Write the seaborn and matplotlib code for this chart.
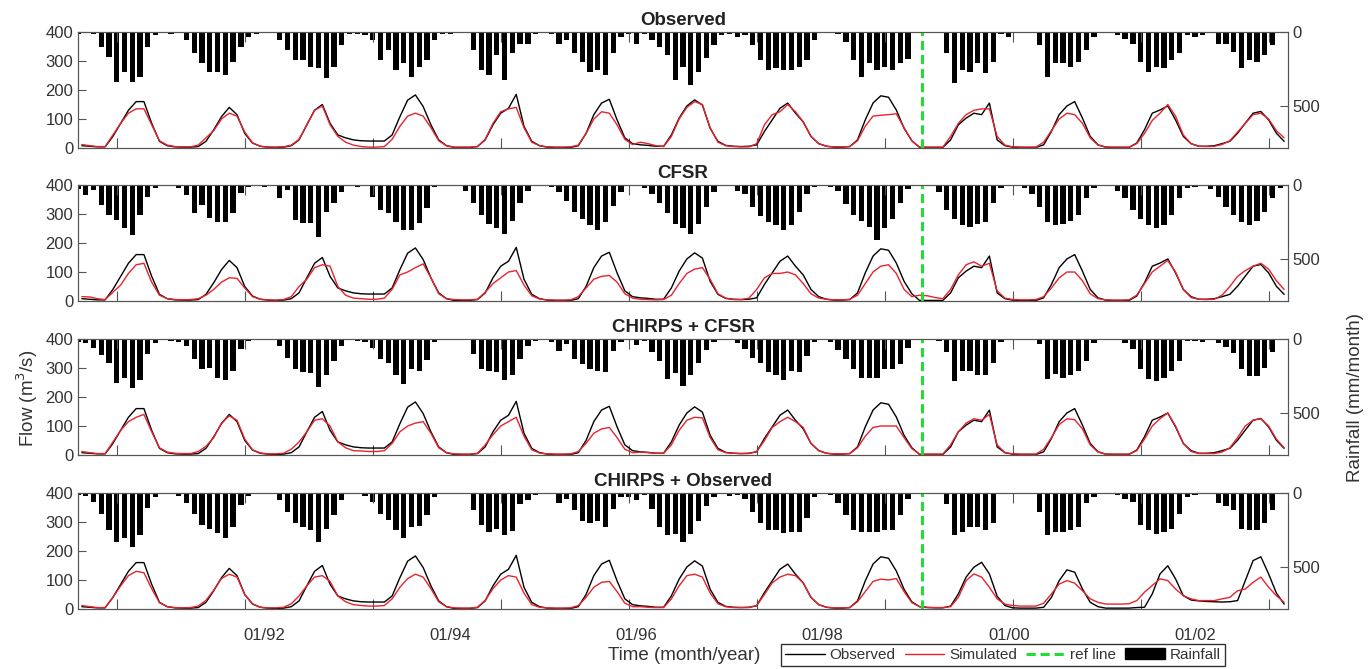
import numpy as np
import pandas as pd
import matplotlib
matplotlib.use('Agg')
import matplotlib.pyplot as plt
import seaborn as sns
from matplotlib.lines import Line2D
from matplotlib.patches import Patch

# monthly series, Jan 1990 - Dec 2002 (156 months)
panel_titles = ['Observed', 'CFSR', 'CHIRPS + CFSR', 'CHIRPS + Observed']
tick_months = [24, 48, 72, 96, 120, 144]
tick_labels = ['01/92', '01/94', '01/96', '01/98', '01/00', '01/02']
ref_month = 108.8

obs_flow = [
    8, 6, 4, 4, 40, 85, 130, 160, 160, 85, 23, 8,
    4, 3, 3, 5, 23, 63, 108, 140, 115, 50, 17, 6,
    3, 2, 3, 8, 28, 80, 130, 150, 85, 45, 35, 28,
    25, 24, 24, 24, 45, 108, 165, 183, 143, 80, 28, 8,
    2, 2, 2, 5, 28, 80, 120, 137, 185, 75, 23, 8,
    3, 2, 2, 2, 8, 50, 115, 155, 168, 97, 35, 15,
    11, 9, 6, 6, 45, 103, 145, 166, 148, 68, 23, 9,
    6, 5, 6, 11, 57, 97, 137, 155, 120, 90, 40, 15,
    6, 3, 3, 5, 28, 97, 155, 180, 175, 131, 68, 25,
    2, 2, 2, 2, 28, 80, 103, 120, 115, 155, 28, 8,
    3, 2, 2, 2, 11, 57, 115, 145, 160, 103, 40, 11,
    3, 2, 2, 2, 17, 63, 120, 131, 145, 97, 40, 15,
    6, 6, 8, 15, 23, 51, 86, 120, 126, 97, 51, 23,
]
# observed curve drawn in the last panel for 1999-2002
obs_flow_p4_tail = [
    8, 5, 4, 4, 10, 52, 110, 144, 161, 121, 44, 12,
    4, 3, 3, 3, 6, 40, 98, 135, 127, 69, 23, 8,
    3, 3, 3, 3, 5, 6, 52, 121, 149, 104, 46, 31,
    28, 26, 25, 24, 25, 29, 98, 167, 180, 121, 55, 17,
]

sim_observed = [
    12, 8, 5, 5, 45, 85, 120, 135, 135, 80, 25, 10,
    5, 4, 4, 10, 35, 60, 100, 120, 110, 55, 18, 6,
    3, 3, 4, 10, 30, 80, 130, 145, 80, 40, 20, 10,
    5, 3, 3, 5, 30, 75, 110, 120, 110, 70, 25, 8,
    3, 3, 3, 5, 30, 85, 125, 135, 140, 70, 20, 8,
    4, 3, 3, 4, 10, 50, 100, 125, 120, 80, 30, 12,
    20, 15, 8, 5, 40, 100, 140, 160, 150, 70, 20, 8,
    5, 4, 4, 15, 80, 115, 125, 150, 125, 90, 40, 15,
    6, 4, 4, 5, 25, 75, 110, 113, 115, 118, 70, 25,
    3, 3, 3, 3, 40, 85, 115, 130, 135, 135, 40, 10,
    4, 3, 3, 3, 20, 60, 100, 120, 115, 85, 35, 10,
    3, 3, 3, 3, 15, 50, 95, 120, 150, 110, 45, 15,
    6, 5, 6, 12, 25, 55, 85, 115, 120, 100, 60, 35,
]
sim_cfsr = [
    15, 14, 8, 5, 30, 55, 95, 125, 130, 65, 20, 8,
    5, 4, 5, 8, 20, 40, 65, 80, 78, 45, 15, 6,
    4, 3, 5, 15, 50, 75, 115, 125, 120, 50, 20, 10,
    8, 6, 6, 10, 40, 90, 100, 115, 128, 80, 25, 8,
    5, 4, 4, 6, 30, 60, 80, 100, 105, 55, 18, 7,
    4, 3, 3, 4, 15, 45, 75, 85, 88, 65, 25, 10,
    6, 5, 4, 5, 20, 60, 95, 110, 115, 75, 25, 10,
    5, 5, 10, 40, 80, 95, 95, 100, 90, 60, 25, 10,
    6, 4, 4, 6, 20, 60, 100, 120, 125, 95, 40, 15,
    20, 18, 12, 8, 40, 90, 125, 135, 120, 130, 35, 10,
    5, 4, 4, 5, 15, 45, 80, 100, 100, 70, 25, 8,
    4, 3, 3, 4, 20, 60, 100, 120, 140, 100, 40, 12,
    6, 5, 6, 20, 50, 85, 105, 120, 130, 110, 70, 40,
]
sim_chirps_cfsr = [
    12, 8, 5, 5, 45, 85, 115, 130, 140, 80, 25, 10,
    6, 5, 5, 12, 30, 60, 110, 135, 120, 55, 18, 7,
    4, 4, 6, 20, 45, 80, 120, 125, 100, 45, 25, 15,
    14, 12, 12, 15, 40, 80, 100, 110, 115, 75, 25, 8,
    4, 3, 3, 6, 35, 70, 100, 115, 130, 65, 18, 7,
    4, 3, 3, 4, 12, 40, 75, 90, 95, 60, 20, 8,
    10, 8, 6, 6, 35, 85, 120, 130, 128, 60, 18, 8,
    6, 5, 5, 12, 50, 95, 115, 130, 115, 95, 40, 15,
    6, 4, 4, 5, 25, 65, 95, 100, 100, 100, 60, 22,
    3, 3, 3, 3, 35, 80, 110, 125, 120, 140, 35, 8,
    4, 3, 3, 3, 20, 60, 105, 125, 122, 90, 35, 10,
    3, 3, 3, 3, 15, 55, 100, 125, 145, 100, 40, 12,
    5, 5, 5, 10, 25, 60, 100, 120, 125, 100, 55, 25,
]
sim_chirps_obs = [
    12, 8, 5, 5, 40, 80, 115, 130, 125, 70, 22, 8,
    5, 4, 5, 10, 30, 65, 105, 120, 110, 50, 18, 6,
    4, 4, 6, 18, 45, 80, 110, 115, 95, 45, 25, 15,
    12, 10, 10, 12, 35, 75, 105, 120, 110, 70, 25, 8,
    4, 3, 3, 6, 30, 70, 100, 115, 110, 55, 15, 6,
    4, 3, 3, 4, 12, 40, 75, 92, 95, 60, 20, 8,
    8, 6, 5, 5, 35, 80, 115, 120, 110, 55, 18, 8,
    5, 5, 5, 12, 50, 90, 110, 120, 115, 90, 40, 15,
    6, 4, 4, 5, 25, 60, 95, 103, 100, 105, 60, 22,
    8, 6, 5, 5, 8, 40, 98, 121, 110, 75, 35, 17,
    12, 10, 10, 10, 20, 52, 86, 98, 89, 63, 35, 23,
    17, 17, 17, 18, 29, 58, 81, 104, 98, 69, 46, 35,
    29, 29, 29, 35, 40, 63, 69, 92, 110, 75, 46, 23,
]

rain_observed = [
    11, 4, 12, 100, 167, 333, 267, 333, 300, 100, 22, 3,
    11, 2, 55, 144, 211, 267, 267, 289, 200, 100, 33, 11,
    4, 2, 55, 122, 189, 189, 233, 244, 311, 233, 89, 11,
    11, 22, 55, 189, 122, 255, 211, 300, 233, 189, 55, 11,
    11, 4, 4, 122, 255, 289, 155, 322, 144, 78, 78, 11,
    4, 11, 78, 55, 144, 200, 267, 255, 289, 144, 33, 11,
    78, 11, 55, 100, 155, 322, 233, 355, 267, 178, 89, 22,
    11, 33, 22, 89, 189, 255, 244, 255, 255, 233, 189, 55,
    4, 4, 11, 67, 189, 300, 211, 255, 233, 255, 210, 180,
    4, 4, 2, 2, 144, 344, 255, 267, 211, 278, 200, 11,
    33, 7, 4, 4, 89, 300, 211, 211, 233, 200, 122, 33,
    4, 7, 22, 44, 78, 200, 267, 233, 244, 189, 144, 22,
    33, 22, 4, 78, 78, 133, 244, 189, 200, 155, 89, 4,
]
rain_cfsr = [
    25, 67, 34, 135, 200, 235, 290, 335, 200, 78, 22, 5,
    2, 22, 67, 190, 135, 224, 247, 247, 190, 56, 11, 2,
    11, 4, 90, 34, 235, 258, 258, 347, 180, 123, 45, 4,
    11, 4, 78, 168, 190, 247, 303, 303, 258, 157, 11, 2,
    5, 10, 40, 120, 200, 260, 290, 330, 240, 120, 40, 10,
    5, 15, 50, 110, 180, 230, 270, 300, 250, 140, 50, 10,
    10, 20, 60, 120, 190, 260, 290, 330, 260, 150, 50, 10,
    10, 40, 60, 150, 210, 250, 270, 300, 270, 180, 60, 15,
    10, 15, 40, 130, 200, 240, 280, 370, 290, 230, 120, 30,
    5, 5, 10, 50, 170, 230, 270, 280, 260, 250, 120, 20,
    10, 5, 20, 60, 150, 250, 270, 260, 240, 200, 90, 20,
    5, 10, 40, 90, 170, 230, 270, 290, 270, 200, 90, 20,
    15, 10, 30, 80, 150, 200, 250, 270, 240, 180, 90, 20,
]
rain_chirps_cfsr = [
    20, 30, 60, 110, 160, 295, 260, 330, 275, 100, 30, 5,
    15, 20, 50, 135, 205, 195, 265, 275, 215, 70, 15, 5,
    10, 5, 45, 125, 205, 225, 230, 320, 240, 150, 45, 10,
    12, 20, 60, 135, 160, 240, 300, 200, 215, 140, 20, 5,
    10, 5, 10, 100, 205, 215, 225, 275, 240, 135, 50, 15,
    5, 20, 80, 35, 135, 170, 205, 215, 225, 80, 20, 10,
    40, 15, 90, 150, 270, 230, 315, 240, 160, 75, 20, 10,
    10, 25, 65, 125, 160, 225, 240, 275, 215, 225, 115, 20,
    10, 20, 75, 135, 205, 260, 260, 260, 205, 200, 170, 60,
    5, 5, 5, 15, 90, 285, 215, 215, 240, 240, 160, 20,
    5, 10, 5, 5, 35, 270, 235, 260, 240, 215, 150, 25,
    5, 5, 10, 25, 70, 205, 270, 285, 260, 215, 150, 15,
    15, 20, 10, 25, 55, 95, 205, 250, 250, 195, 90, 5,
]
rain_chirps_obs = [
    15, 20, 60, 140, 250, 330, 300, 360, 280, 100, 25, 5,
    10, 20, 70, 140, 215, 240, 270, 300, 230, 80, 20, 5,
    10, 10, 50, 130, 200, 230, 250, 330, 240, 150, 50, 10,
    10, 20, 60, 140, 180, 250, 300, 230, 220, 150, 30, 5,
    5, 5, 10, 115, 215, 260, 240, 285, 255, 75, 50, 15,
    5, 10, 70, 40, 115, 185, 200, 185, 230, 105, 25, 25,
    50, 15, 110, 230, 285, 275, 330, 275, 185, 85, 30, 10,
    20, 15, 40, 130, 200, 250, 250, 270, 260, 260, 170, 25,
    10, 15, 70, 150, 250, 265, 265, 265, 250, 250, 150, 40,
    5, 5, 5, 10, 75, 285, 260, 230, 230, 250, 205, 10,
    10, 5, 5, 5, 125, 285, 260, 260, 250, 230, 70, 25,
    10, 10, 15, 40, 60, 215, 250, 275, 260, 240, 140, 25,
    15, 10, 10, 70, 85, 115, 240, 250, 250, 205, 115, 10,
]

flows_obs = [obs_flow, obs_flow, obs_flow, obs_flow[:108] + obs_flow_p4_tail]
flows_sim = [sim_observed, sim_cfsr, sim_chirps_cfsr, sim_chirps_obs]
rains = [rain_observed, rain_cfsr, rain_chirps_cfsr, rain_chirps_obs]

sns.set_theme(style='white')
plt.rcParams['font.family'] = ['Liberation Sans', 'DejaVu Sans']
txt = '#333333'
edge = '#555555'
red = '#e8232e'

fig = plt.figure(figsize=(13.68, 6.69), dpi=100)
W, H = 1368.0, 669.0
left, width = 78 / W, 1210 / W
tops = [32, 185, 339, 493]
ph = 116

months = np.arange(156)
for i in range(4):
    ax = fig.add_axes([left, 1 - (tops[i] + ph) / H, width, ph / H])
    axr = ax.twinx()
    df = pd.DataFrame({'month': months, 'rain': rains[i],
                       'obs': flows_obs[i], 'sim': flows_sim[i]})
    sns.barplot(data=df, x='month', y='rain', native_scale=True, color='black',
                saturation=1, width=0.68, errorbar=None, linewidth=0, ax=axr)
    axr.set_ylim(780, 0)
    axr.set_yticks([0, 500])
    axr.set_ylabel('')
    axr.set_xlabel('')

    sns.lineplot(x=df['month'] + 0.5, y=df['obs'], color='black', lw=1.0, ax=ax)
    sns.lineplot(x=df['month'] + 0.5, y=df['sim'], color=red, lw=1.0, ax=ax)
    ax.axvline(ref_month, color='#22dd33', lw=2.2, dashes=(3, 1.6))
    ax.set_zorder(axr.get_zorder() + 1)
    ax.patch.set_visible(False)

    ax.set_ylim(0, 400)
    ax.set_yticks([0, 100, 200, 300, 400])
    ax.set_xlim(0, 156)
    ax.set_xticks(tick_months)
    ax.set_xticks(np.arange(5, 156, 16.5), minor=True)
    if i == 3:
        ax.set_xticklabels(tick_labels)
    else:
        ax.set_xticklabels([])
    ax.set_xlabel('')
    ax.set_ylabel('')
    ax.set_title(panel_titles[i], fontsize=13.5, fontweight='bold', color='#222222', pad=5)

    ax.tick_params(axis='x', which='major', length=0, pad=14, labelsize=12, labelcolor=txt)
    ax.tick_params(axis='x', which='minor', direction='in', length=7, width=0.8,
                   color=edge, top=True, bottom=True)
    ax.tick_params(axis='y', direction='in', length=6, width=0.8, color=edge,
                   labelsize=12, labelcolor=txt, left=True)
    axr.tick_params(axis='y', direction='in', length=6, width=0.8, color=edge,
                    labelsize=12, labelcolor=txt, right=True)
    for a in (ax, axr):
        for s in a.spines.values():
            s.set_visible(True)
            s.set_color(edge)
            s.set_linewidth(0.8)

fig.text(27 / W, 1 - 398 / H, 'Flow (m$^3$/s)', rotation=90, ha='center', va='center',
         fontsize=13.5, color=txt)
fig.text(1355 / W, 1 - 398 / H, 'Rainfall (mm/month)', rotation=90, ha='center', va='center',
         fontsize=13.5, color=txt)
fig.text(684 / W, 1 - 655 / H, 'Time (month/year)', ha='center', va='center',
         fontsize=13.5, color=txt)

handles = [Line2D([], [], color='black', lw=1.0),
           Line2D([], [], color=red, lw=1.0),
           Line2D([], [], color='#22dd33', lw=2.2, dashes=(3, 1.6)),
           Patch(facecolor='black', edgecolor='black')]
fig.legend(handles, ['Observed', 'Simulated', 'ref line', 'Rainfall'], ncol=4,
           loc='center', bbox_to_anchor=(1003 / W, 1 - 655 / H), fontsize=11,
           frameon=True, fancybox=False, edgecolor='#333333', framealpha=1,
           handlelength=2.6, handletextpad=0.3, columnspacing=0.6,
           borderpad=0.25, labelcolor=txt)

fig.savefig('out.png', dpi=100)
